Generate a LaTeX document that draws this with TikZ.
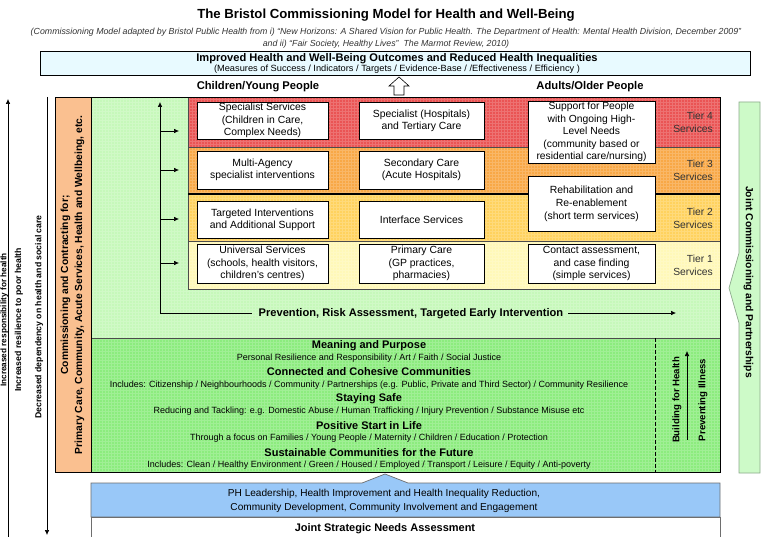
\documentclass[tikz,border=0pt]{standalone}
\usepackage{fontspec}
\setmainfont{Liberation Sans}
\usetikzlibrary{arrows.meta}
\definecolor{orangestrip}{RGB}{250,192,144}
\definecolor{lightgreen}{RGB}{198,248,186}
\definecolor{midgreen}{RGB}{140,236,126}
\definecolor{tierfour}{RGB}{234,84,84}
\definecolor{tierthree}{RGB}{248,168,70}
\definecolor{tiertwo}{RGB}{255,210,94}
\definecolor{tierone}{RGB}{255,248,184}
\definecolor{topcyan}{RGB}{232,250,255}
\definecolor{bluebox}{RGB}{153,200,248}
\definecolor{jointgreen}{RGB}{205,250,200}
\definecolor{jointborder}{RGB}{140,170,140}
\definecolor{tiertext}{RGB}{50,50,50}
\definecolor{boxgray}{RGB}{110,110,110}
\tikzset{
  svcbox/.style={draw=black, fill=white, line width=0.7pt, align=center, inner sep=1pt,
    font=\fontsize{10.4}{12.3}\selectfont},
  tierlab/.style={align=right, anchor=east, text=tiertext, inner sep=0pt,
    font=\fontsize{10.3}{12.8}\selectfont},
  headtxt/.style={inner sep=0pt, font=\bfseries\fontsize{11}{13}\selectfont},
  subtxt/.style={inner sep=0pt, font=\fontsize{9}{10}\selectfont},
  sidetxt/.style={inner sep=0pt, rotate=90, font=\bfseries\fontsize{8.7}{10}\selectfont},
  arr/.style={-{Latex[length=5pt,width=4.5pt]}, line width=0.6pt},
  thinline/.style={line width=0.5pt},
  gridtex/.style={step=3pt, line width=0.35pt, draw=white, opacity=0.18}
}
\begin{document}
\begin{tikzpicture}[x=1pt,y=-1pt]
\useasboundingbox (0,0) rectangle (767,537);
\fill[white] (0,0) rectangle (767,537);

% title
\node[inner sep=0pt, font=\bfseries\fontsize{13.2}{15}\selectfont] (title) at (386,15) {The Bristol Commissioning Model for Health and Well-Being};
\node[inner sep=0pt, font=\itshape\fontsize{8.8}{10}\selectfont, text=black!80] (sub1) at (386,32) {(Commissioning Model adapted by Bristol Public Health from i) ``New Horizons: A Shared Vision for Public Health. The Department of Health: Mental Health Division, December 2009''};
\node[inner sep=0pt, font=\itshape\fontsize{8.8}{10}\selectfont, text=black!80] (sub2) at (386,44) {and ii) ``Fair Society, Healthy Lives''\ \ The Marmot Review, 2010)};

% top outcome box
\draw[fill=topcyan, thinline] (40,51) rectangle (750,75);
\node[inner sep=0pt, font=\bfseries\fontsize{11.1}{12}\selectfont] (outc) at (397,58.5) {Improved Health and Well-Being Outcomes and Reduced Health Inequalities};
\node[inner sep=0pt, xscale=1.03, font=\fontsize{9}{10}\selectfont] (outs) at (397,69.5) {(Measures of Success / Indicators / Targets / Evidence-Base / /Effectiveness / Efficiency )};

% column headers and house arrow
\node[inner sep=0pt, font=\bfseries\fontsize{11.2}{12}\selectfont] (chy) at (258,87) {Children/Young People};
\node[inner sep=0pt, font=\bfseries\fontsize{11.2}{12}\selectfont] (aop) at (590,87) {Adults/Older People};
\draw[fill=white, line width=0.6pt] (399,77) -- (409,86) -- (404,86) -- (404,95) -- (394,95) -- (394,86) -- (389,86) -- cycle;

% main panels
\fill[orangestrip] (55,97) rectangle (91,472);
\fill[lightgreen] (91,97) rectangle (720,338);
\fill[midgreen] (91,338) rectangle (720,472);
\fill[tierfour] (188,97) rectangle (720,147);
\fill[tierthree] (188,147) rectangle (720,194);
\fill[tiertwo] (188,194) rectangle (720,241);
\fill[tierone] (188,241) rectangle (720,289);
\draw[gridtex] (91,97) grid (720,472);
\draw[thinline, black!70] (188,97) rectangle (720,289);
\draw[thinline, black!70] (188,147) -- (720,147);
\draw[line width=1.3pt] (188,194) -- (720,194);
\draw[thinline, black!70] (188,241) -- (720,241);
\draw[thinline, black!70] (91,338) -- (720,338);
\draw[thinline] (91,97) -- (91,472);
\draw[thinline, dashed, dash pattern=on 4pt off 2pt] (655,338) -- (655,472);
\draw[thinline] (55,97) rectangle (720,472);

% orange strip text
\node[inner sep=0pt, rotate=90, font=\bfseries\fontsize{10.3}{12}\selectfont] (cc1) at (65.5,285) {Commissioning and Contracting for;};
\node[inner sep=0pt, rotate=90, font=\bfseries\fontsize{10.3}{12}\selectfont] (cc2) at (79.5,285) {Primary Care, Community, Acute Services, Health and Wellbeing, etc.};

% service boxes
\node[svcbox, minimum width=131pt, minimum height=37pt] (c1r4) at (262.5,120.5) {Specialist Services\\(Children in Care,\\Complex Needs)};
\node[svcbox, minimum width=131pt, minimum height=38pt] (c1r3) at (262.5,170) {Multi-Agency\\specialist interventions};
\node[svcbox, minimum width=131pt, minimum height=37pt] (c1r2) at (262.5,219.5) {Targeted Interventions\\and Additional Support};
\node[svcbox, minimum width=131pt, minimum height=39pt] (c1r1) at (262.5,263.5) {Universal Services\\(schools, health visitors,\\children's centres)};

\node[svcbox, minimum width=125pt, minimum height=37pt] (c2r4) at (421.5,120.5) {Specialist (Hospitals)\\and Tertiary Care};
\node[svcbox, minimum width=125pt, minimum height=38pt] (c2r3) at (421.5,170) {Secondary Care\\(Acute Hospitals)};
\node[svcbox, minimum width=125pt, minimum height=37pt] (c2r2) at (421.5,219.5) {Interface Services};
\node[svcbox, minimum width=125pt, minimum height=39pt] (c2r1) at (421.5,263.5) {Primary Care\\(GP practices,\\pharmacies)};

\node[svcbox, minimum width=127pt, minimum height=62pt, font=\fontsize{10.3}{12.6}\selectfont] (c3r4) at (591.5,132) {Support for People\\with Ongoing High-\\Level Needs\\(community based or\\residential care/nursing)};
\node[svcbox, minimum width=127pt, minimum height=55pt, font=\fontsize{10.4}{13}\selectfont] (c3r2) at (591.5,203.5) {Rehabilitation and\\Re-enablement\\(short term services)};
\node[svcbox, minimum width=127pt, minimum height=39pt] (c3r1) at (591.5,263.5) {Contact assessment,\\and case finding\\(simple services)};

% tier labels
\node[tierlab] (t4) at (713,122.5) {Tier 4\\Services};
\node[tierlab] (t3) at (713,170) {Tier 3\\Services};
\node[tierlab] (t2) at (713,218) {Tier 2\\Services};
\node[tierlab] (t1) at (713,265) {Tier 1\\Services};

% prevention arrows
\coordinate (vbot) at (160,313);
\coordinate (vtop) at (160,102);
\coordinate (b4) at (160,131); \coordinate (e4) at (179,131);
\coordinate (b3) at (160,170); \coordinate (e3) at (179,170);
\coordinate (b2) at (160,219); \coordinate (e2) at (179,219);
\coordinate (b1) at (160,263); \coordinate (e1) at (179,263);
\coordinate (pend) at (676,313);
\node[inner sep=0pt, font=\bfseries\fontsize{11.1}{12}\selectfont] (prev) at (411,314) {Prevention, Risk Assessment, Targeted Early Intervention};
\draw[arr] (vbot) -- (vtop);
\draw[arr] (b4) -- (e4);
\draw[arr] (b3) -- (e3);
\draw[arr] (b2) -- (e2);
\draw[arr] (b1) -- (e1);
\draw[line width=0.6pt] (vbot) -- ([xshift=-7pt]prev.west |- vbot);
\draw[arr] ([xshift=5pt]prev.east |- pend) -- (pend);

% lower green texts
\node[headtxt] (mp) at (369,346) {Meaning and Purpose};
\node[subtxt] (mps) at (369,358.5) {Personal Resilience and Responsibility / Art / Faith / Social Justice};
\node[headtxt] (cc) at (369,372) {Connected and Cohesive Communities};
\node[subtxt] (ccs) at (369,385) {Includes: Citizenship / Neighbourhoods / Community / Partnerships (e.g. Public, Private and Third Sector) / Community Resilience};
\node[headtxt] (ss) at (369,399) {Staying Safe};
\node[subtxt] (sss) at (369,411.5) {Reducing and Tackling: e.g. Domestic Abuse / Human Trafficking / Injury Prevention / Substance Misuse etc};
\node[headtxt] (ps) at (369,426) {Positive Start in Life};
\node[subtxt] (pss) at (369,438) {Through a focus on Families / Young People / Maternity / Children / Education / Protection};
\node[headtxt] (sc) at (369,453) {Sustainable Communities for the Future};
\node[subtxt] (scs) at (369,465) {Includes: Clean / Healthy Environment / Green / Housed / Employed / Transport / Leisure / Equity / Anti-poverty};

% building for health
\node[inner sep=0pt, rotate=90, font=\bfseries\fontsize{9.6}{11}\selectfont] (bfh) at (677,400) {Building for Health};
\node[inner sep=0pt, rotate=90, font=\bfseries\fontsize{9.6}{11}\selectfont] (pil) at (703,400) {Preventing Illness};
\coordinate (bha) at (687,440);
\coordinate (bhb) at (687,351);
\draw[arr] (bha) -- (bhb);

% joint commissioning side box
\draw[fill=jointgreen, draw=jointborder, line width=0.7pt] (739,102) -- (760,102) -- (760,473) -- (739,473) -- (739,323) -- (729,288) -- (739,253) -- cycle;
\node[inner sep=0pt, rotate=-90, font=\bfseries\fontsize{10.3}{12}\selectfont] (jcp) at (748.5,282) {Joint Commissioning and Partnerships};

% blue box
\draw[fill=bluebox, draw=boxgray, line width=0.7pt] (91,483) -- (362,483) -- (385,474) -- (408,483) -- (720,483) -- (720,517) -- (91,517) -- cycle;
\node[inner sep=0pt, align=center, font=\fontsize{10.1}{14}\selectfont] (phl) at (384,501) {PH Leadership, Health Improvement and Health Inequality Reduction,\\Community Development, Community Involvement and Engagement};
\draw[fill=white, draw=boxgray, line width=0.7pt] (91,517) rectangle (720,545);
\node[inner sep=0pt, font=\bfseries\fontsize{11}{12}\selectfont] (jsna) at (385,528.5) {Joint Strategic Needs Assessment};

% left side arrows and texts
\coordinate (ua) at (8,540);
\coordinate (ub) at (8,99);
\coordinate (da) at (47,97);
\coordinate (db) at (47,535);
\draw[arr] (ua) -- (ub);
\draw[arr] (da) -- (db);
\node[sidetxt, font=\bfseries\fontsize{8.2}{10}\selectfont] (ira) at (4.2,320) {Increased responsibility for health};
\node[sidetxt] (irb) at (19,320) {Increased resilience to poor health};
\node[sidetxt] (ddc) at (39,317) {Decreased dependency on health and social care};
\end{tikzpicture}
\end{document}
